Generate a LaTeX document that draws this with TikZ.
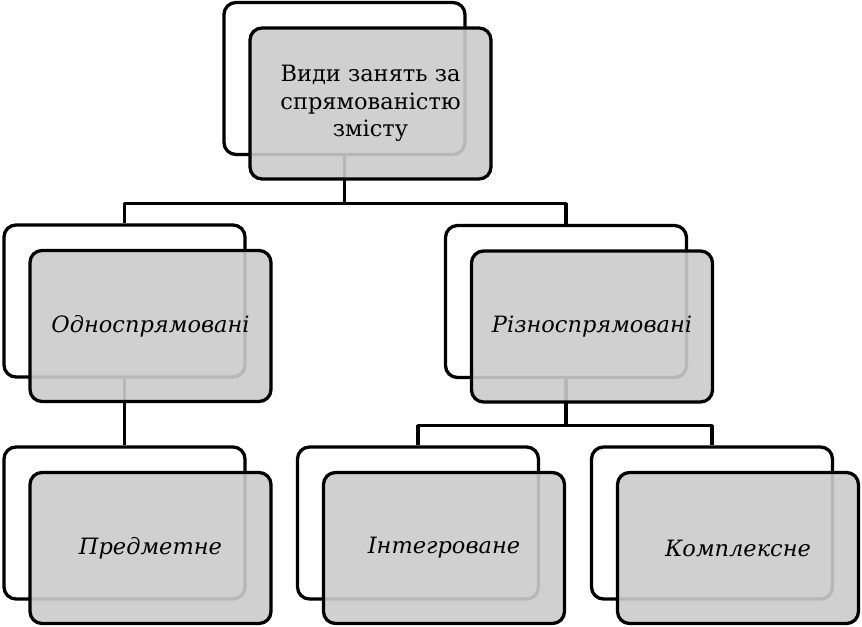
\documentclass[tikz,border=0pt]{standalone}
\usepackage{fontspec}
\setmainfont{DejaVu Serif}
\definecolor{boxgray}{RGB}{203,203,203}
\tikzset{
  backbox/.style={draw,line width=3.3bp,rounded corners=12bp,fill=white,
    minimum width=241bp,minimum height=152bp,inner sep=0pt},
  frontbox/.style={draw,line width=3.3bp,rounded corners=12bp,fill=boxgray,
    fill opacity=0.9,text opacity=1,minimum width=241bp,minimum height=151bp,
    inner sep=0pt,align=center,font=\fontsize{22.5bp}{27.5bp}\selectfont},
  link/.style={line width=3.3bp}
}
\begin{document}
\begin{tikzpicture}[x=1bp,y=-1bp,line join=round]
  \useasboundingbox (0,0) rectangle (862,627);
%%
  % Node: back frames
  \node[backbox] (VydyB) at (344.5,78.5) {};
  \node[backbox] (OdnoB) at (124.5,301) {};
  \node[backbox] (RiznoB) at (566,301.5) {};
  \node[backbox] (PredmB) at (124.5,523) {};
  \node[backbox] (IntegB) at (418,523) {};
  \node[backbox] (KomplB) at (712,523) {};
  % Edge: Vydy -> Odno, Rizno
  \draw[link] (VydyB.south) -- ++(0,47.5) -| (OdnoB.north);
  \draw[link] (VydyB.south) -- ++(0,47.5) -| (RiznoB.north);
  % Edge: Odno -> Predm
  \draw[link] (OdnoB.south) -- (PredmB.north);
  % Edge: Rizno -> Integ, Kompl
  \draw[link] (RiznoB.south) -- ++(0,46.5) -| (IntegB.north);
  \draw[link] (RiznoB.south) -- ++(0,46.5) -| (KomplB.north);
  % Node: front boxes
  \node[frontbox] (Vydy) at (370.5,103.5) {Види занять за\\спрямованістю\\змісту};
  \node[frontbox] (Odno) at (150.5,326) {\itshape Односпрямовані};
  \node[frontbox] (Rizno) at (592,326.5) {\itshape Різноспрямовані};
  \node[frontbox] (Predm) at (150.5,548) {\itshape Предметне};
  \node[frontbox] (Integ) at (444,548) {\itshape Інтегроване};
  \node[frontbox] (Kompl) at (738,548) {\itshape Комплексне};
%
\end{tikzpicture}
\end{document}
